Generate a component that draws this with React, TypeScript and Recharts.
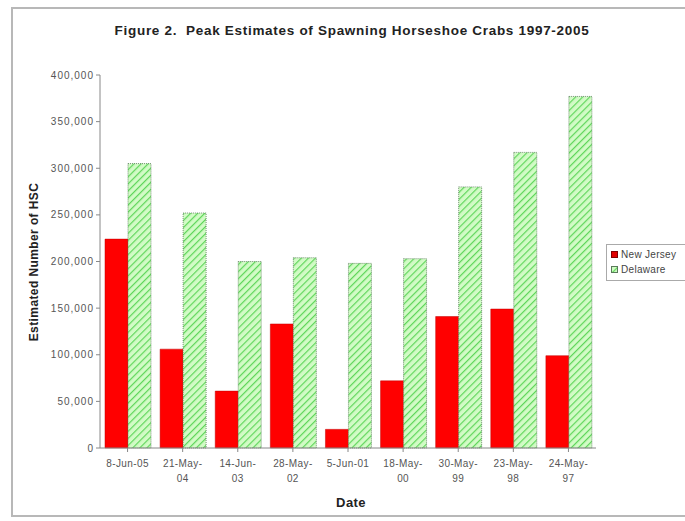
import React from 'react';
import { BarChart, Bar, XAxis, YAxis } from 'recharts';

const dates = ['8-Jun-05', '21-May-04', '14-Jun-03', '28-May-02', '5-Jun-01', '18-May-00', '30-May-99', '23-May-98', '24-May-97'];
const newJersey = [224000, 106000, 61000, 133000, 20000, 72000, 141000, 149000, 99000];
const delaware = [305000, 252000, 200000, 204000, 198000, 203000, 280000, 317000, 377000];
const yTicks = [0, 50000, 100000, 150000, 200000, 250000, 300000, 350000, 400000];
const seriesNames = ['New Jersey', 'Delaware'];

const data = dates.map((d, i) => ({ date: d, nj: newJersey[i], de: delaware[i] }));

const FONT = 'Arial, "Liberation Sans", sans-serif';

// split "21-May-04" into "21-May-" / "04" like Excel wraps it
const DateTick = (props: any) => {
  const { x, y, payload } = props;
  const v: string = payload.value;
  const oneLine = v.length <= 8;
  const lines = oneLine ? [v] : [v.slice(0, v.lastIndexOf('-') + 1), v.slice(v.lastIndexOf('-') + 1)];
  return (
    <text x={x} y={y} textAnchor="middle" fontSize={10} fill="#555" fontFamily={FONT} letterSpacing={0.4}>
      {lines.map((l, i) => (
        <tspan key={i} x={x} dy={i === 0 ? 13 : 15}>{l}</tspan>
      ))}
    </text>
  );
};

export default function App() {
  return (
    <div style={{ position: 'absolute', left: 0, top: 0, width: 685, height: 521, background: '#fff', overflow: 'hidden', fontFamily: FONT }}>
      <svg width={0} height={0} style={{ position: 'absolute' }}>
        <defs>
          <pattern id="hatch" patternUnits="userSpaceOnUse" width={5} height={5} patternTransform="rotate(45)">
            <rect width={5} height={5} fill="#d2fbc6" />
            <line x1={0} y1={0} x2={0} y2={5} stroke="#5ed65a" strokeWidth={2.4} />
          </pattern>
        </defs>
      </svg>
      <div style={{ position: 'absolute', left: 11, top: 7, width: 700, height: 510, border: '2px solid #b8b8b8', boxSizing: 'border-box' }} />
      <div style={{ position: 'absolute', left: 0, top: 23, width: 704, textAlign: 'center', fontSize: 13.5, fontWeight: 'bold', color: '#222', letterSpacing: 0.7 }}>
        Figure 2.&nbsp; Peak Estimates of Spawning Horseshoe Crabs 1997-2005
      </div>
      <div style={{ position: 'absolute', left: 34, top: 262, transform: 'translate(-50%, -50%) rotate(-90deg)', whiteSpace: 'nowrap', fontSize: 12, fontWeight: 'bold', color: '#222', letterSpacing: 0.4 }}>
        Estimated Number of HSC
      </div>
      <div style={{ position: 'absolute', left: 351, top: 495, transform: 'translateX(-50%)', fontSize: 13, fontWeight: 'bold', color: '#222', letterSpacing: 0.4 }}>
        Date
      </div>
      <div style={{ position: 'absolute', left: 0, top: 0 }}>
        <BarChart
          width={685}
          height={521}
          data={data}
          margin={{ top: 75, right: 89, bottom: 23, left: 0 }}
          barCategoryGap={5}
          barGap={0}
        >
          <XAxis
            dataKey="date"
            height={50}
            stroke="#888"
            tickSize={4}
            tick={<DateTick />}
            interval={0}
          />
          <YAxis
            width={100}
            domain={[0, 400000]}
            ticks={yTicks}
            stroke="#888"
            tickSize={4}
            tickFormatter={(v: number) => v.toLocaleString('en-US')}
            tick={{ fontSize: 10, fill: '#555', fontFamily: FONT, letterSpacing: 1 }}
            interval={0}
          />
          <Bar dataKey="nj" name={seriesNames[0]} fill="#ff0000" stroke="#c00000" strokeWidth={0.5} isAnimationActive={false} />
          <Bar dataKey="de" name={seriesNames[1]} fill="url(#hatch)" stroke="#5a7a5a" strokeWidth={0.8} strokeDasharray="1 1" isAnimationActive={false} />
        </BarChart>
      </div>
      <div style={{ position: 'absolute', left: 606, top: 244, width: 100, height: 37, border: '1px solid #aaa', boxSizing: 'border-box', background: '#fff', fontSize: 10, color: '#444', letterSpacing: 0.3 }}>
        {seriesNames.map((n, i) => (
          <div key={n} style={{ position: 'absolute', left: 4, top: 4 + i * 15, display: 'flex', alignItems: 'center', whiteSpace: 'nowrap' }}>
            <svg width={7} height={7} style={{ marginRight: 3 }}>
              <rect x={0.5} y={0.5} width={6} height={6} fill={i === 0 ? '#e00000' : 'url(#hatch)'} stroke={i === 0 ? '#800000' : '#5a7a5a'} strokeWidth={1} />
            </svg>
            {n}
          </div>
        ))}
      </div>
    </div>
  );
}
